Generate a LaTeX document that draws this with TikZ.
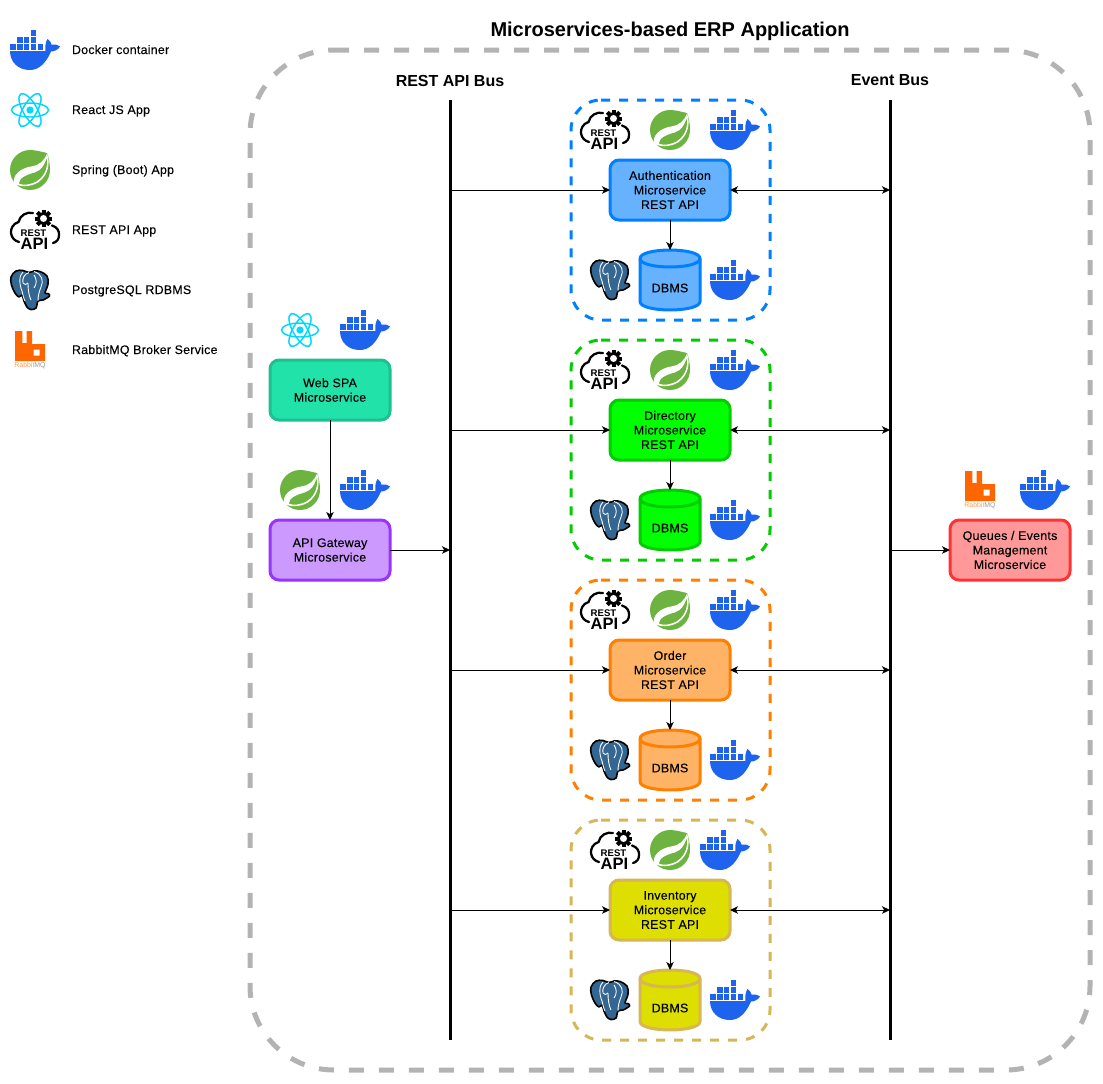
\documentclass[tikz,border=0pt]{standalone}
\usepackage{fontspec}
\setmainfont{Liberation Sans}
\newfontfamily\lblfont[LetterSpace=2.0,FakeBold=0.12]{Liberation Sans}
\usetikzlibrary{arrows.meta}
\definecolor{dockerblue}{HTML}{1D63ED}
\definecolor{reactcyan}{HTML}{00D8FF}
\definecolor{springgreen}{HTML}{6DB33F}
\definecolor{pgblue}{HTML}{336791}
\definecolor{rabbitorange}{HTML}{FF6600}
\definecolor{framegray}{HTML}{B3B3B3}
\definecolor{blueF}{HTML}{66B2FF}\definecolor{blueS}{HTML}{007FFF}
\definecolor{greenF}{HTML}{00FF00}\definecolor{greenS}{HTML}{00CC00}
\definecolor{orangeF}{HTML}{FFB366}\definecolor{orangeS}{HTML}{FF8000}
\definecolor{yellowF}{HTML}{DEDE00}\definecolor{yellowS}{HTML}{D6B656}
\definecolor{tealF}{HTML}{21E3A9}\definecolor{tealS}{HTML}{1EBF90}
\definecolor{purpleF}{HTML}{CC99FF}\definecolor{purpleS}{HTML}{9933FF}
\definecolor{redF}{HTML}{FF9999}\definecolor{redS}{HTML}{FF3333}
\tikzset{
  svcbox/.style={draw,line width=2.25pt,rounded corners=6.75pt,minimum width=90pt,minimum height=45pt,
    inner sep=0pt,outer sep=0pt,align=center,text=black,font=\lblfont\fontsize{9.3}{10.9}\selectfont},
  lbl/.style={inner sep=0pt,outer sep=0pt,font=\lblfont\fontsize{9.3}{10.9}\selectfont,text=black},
  legendlbl/.style={lbl,anchor=base west},
  dbshell/.style={inner sep=0pt,outer sep=0pt,minimum width=45pt,minimum height=45pt},
  busline/.style={line width=2.25pt,black},
  conn/.style={line width=0.75pt,black,-{Stealth[length=6pt,width=5.6pt,inset=1.6pt]}},
  conn2/.style={line width=0.75pt,black,{Stealth[length=6pt,width=5.6pt,inset=1.6pt]}-{Stealth[length=6pt,width=5.6pt,inset=1.6pt]}},
  outerframe/.style={draw=framegray,line width=3.75pt,dash pattern=on 11.25pt off 11.25pt,rounded corners=63pt},
  groupframe/.style={line width=2.25pt,dash pattern=on 6.75pt off 6.75pt,rounded corners=22.5pt},
  buslabel/.style={inner sep=0pt,font=\fontsize{12}{14}\selectfont\bfseries},
  dockericon/.pic={
    \fill[dockerblue] (0,21) -- (35.5,21) .. controls (35,16) and (35.5,12) .. (37.5,9)
      .. controls (40,10.5) and (41,12.5) .. (41.5,14.5) .. controls (44,14) and (47,14.5) .. (50,16.5)
      .. controls (48,20) and (44,21.5) .. (41,21.5) .. controls (36,33) and (29,40) .. (20,40)
      .. controls (8,40) and (0,32) .. (0,21) -- cycle;
    \foreach \xx in {0,6.9,13.8,20.7,27.6}{\fill[dockerblue] (\xx,14) rectangle ++(5.6,5.6);}
    \foreach \xx in {6.9,13.8,20.7}{\fill[dockerblue] (\xx,7) rectangle ++(5.6,5.6);}
    \fill[dockerblue] (20.7,0) rectangle ++(5.6,5.6);
  },
  reacticon/.pic={
    \foreach \aa in {0,60,120}{\draw[reactcyan,line width=1.1pt,rotate=\aa] (0,0) ellipse (18.5 and 7);}
    \fill[reactcyan] (0,0) circle (3.6);
  },
  springicon/.pic={
    \fill[springgreen] (20,0) .. controls (26,0) and (32,2) .. (37,3) .. controls (39,8) and (40,14) .. (40,20)
      .. controls (40,31) and (31,40) .. (20,40) .. controls (9,40) and (0,31) .. (0,20)
      .. controls (0,9) and (9,0) .. (20,0) -- cycle;
    \fill[white] (4,33.5) .. controls (2,25) and (11,18) .. (21,16.5) .. controls (30,15) and (34,11) .. (37,3.5)
      .. controls (40.5,13) and (38.5,25) .. (28,32.5) .. controls (19,37.5) and (10,37) .. (4,33.5) -- cycle;
    \fill[springgreen] (9,33.5) .. controls (9,28) and (17,24.5) .. (25,22.5) .. controls (31,20.5) and (35,15) .. (36.5,8.5)
      .. controls (38,15) and (36,25) .. (27,31) .. controls (20,35) and (13,35.5) .. (9,33.5) -- cycle;
  },
  resticon/.pic={
    \draw[black,line width=1.7pt,line cap=round] (23,3) .. controls (17,1.5) and (10,5) .. (8.5,12)
      .. controls (3,13.5) and (0.5,19) .. (1,23) .. controls (1.5,28) and (5,31) .. (9,32);
    \draw[black,line width=1.7pt,line cap=round] (42,15.5) .. controls (47,17) and (49.5,21) .. (49,25)
      .. controls (49,29) and (47,32) .. (43,33);
    \fill[black] (33.5,8.5) circle (6.3);
    \foreach \aa in {0,45,...,315}{\fill[black,rotate around={\aa:(33.5,8.5)}] (31.5,-0.3) rectangle (35.5,4);}
    \fill[white] (33.5,8.5) circle (3.5);
    \node[inner sep=0pt,text height=5.2pt,text depth=0pt,font=\fontsize{7.2}{8}\selectfont\bfseries] (resttxt) at (23.5,23.3) {REST};
    \node[inner sep=0pt,text height=8.9pt,text depth=0pt,font=\fontsize{12.4}{13}\selectfont\bfseries] (apitxt) at (24.5,34) {API};
  },
  pgicon/.pic={
    \filldraw[fill=pgblue,draw=black,line width=1.2pt,line join=round] plot[smooth cycle,tension=0.6] coordinates {
      (6,1) (1,7) (1.5,15) (5,23) (9,27) (12,25) (14,31) (17,37) (21,39.5) (26,38) (28,31) (33,30) (39.5,26) (38,23.5) (35,23) (38,14) (37,6) (30,1.5) (24,1) (19,2.5) (13,0.5)};
    \draw[white,line width=0.65pt] (13,2) .. controls (9,5) and (9,14) .. (12,21) .. controls (13,24) and (13,27) .. (15,31) ;
    \draw[white,line width=0.65pt] (19,2.5) .. controls (14,4) and (12,9) .. (13,13) .. controls (14,15) and (17,15) .. (18,13);
    \draw[white,line width=0.65pt] (24,1.5) .. controls (32,4) and (34,11) .. (31,17) .. controls (29,22) and (28,26) .. (28,31);
    \draw[white,line width=0.65pt] (18,13) .. controls (18,20) and (19,26) .. (21,30) ;
    \draw[white,line width=0.65pt] (24,5) .. controls (27,9) and (27,14) .. (24,18) ;
  },
  rabbiticon/.pic={
    \fill[rabbitorange,even odd rule] (0,1) -- (7.3,1) -- (7.3,13) -- (11.7,13) -- (11.7,1) -- (17,1) -- (17,14)
      -- (30,14) -- (30,31) -- (0,31) -- cycle (18.5,19.5) rectangle (24.5,25.5);
    \node[inner sep=0pt,font=\fontsize{5.2}{6}\selectfont,text=rabbitorange!65] (rabbittxt) at (15,35.5) {Rabbit\textcolor{black!40}{MQ}};
  },
}
% name prefix, y offset, fill, stroke, label, rest x, top docker x
\newcommand{\svcgroup}[7]{%
  \begin{scope}[shift={(0,#2)}]
    \draw[groupframe,draw=#4] (601,100) -- (770,100) -- (770,320) -- (571,320) -- (571,100) -- (601,100);
    \pic (#1rest) at (#6,110) {resticon};
    \pic (#1spring) at (650,110) {springicon};
    \pic (#1dock) at (#7,110) {dockericon};
    \pic (#1pg) at (590,260) {pgicon};
    \pic (#1dbdock) at (710,260) {dockericon};
    \node[svcbox,fill=#3,draw=#4] (#1box) at (670,190) {#5};
    \filldraw[fill=#3,draw=#4,line width=2.25pt,line join=round] (640,258.5) .. controls (640,247.2) and (700,247.2) .. (700,258.5)
      -- (700,301.5) .. controls (700,312.8) and (640,312.8) .. (640,301.5) -- cycle;
    \draw[#4,line width=2.25pt] (640,258.5) .. controls (640,269.8) and (700,269.8) .. (700,258.5);
    \node[dbshell] (#1db) at (670,280) {};
    \node[lbl] (#1dbtxt) at (670,288) {DBMS};
  \end{scope}
  \draw[conn] (restTop |- #1box.west) -- (#1box.west);
  \draw[conn2] (#1box.east) -- (eventTop |- #1box.east);
  \draw[conn] (#1box.south) -- (#1db.north);
}
\begin{document}
\begin{tikzpicture}[x=0.75pt,y=-0.75pt]
\useasboundingbox (0,0) rectangle (1103,1083);
\fill[white] (0,0) rectangle (1103,1083);
\draw[outerframe] (334,50) -- (1090,50) -- (1090,1070) -- (250,1070) -- (250,50) -- (334,50);
\node[inner sep=0pt,font=\fontsize{15}{18}\selectfont\bfseries] (title) at (670,31) {Microservices-based ERP Application};
\node[buslabel] (restlabel) at (450,80.5) {REST API Bus};
\node[buslabel] (eventlabel) at (890,80.5) {Event Bus};
\coordinate (restTop) at (450,100);
\coordinate (restBot) at (450,1040);
\coordinate (eventTop) at (890,100);
\coordinate (eventBot) at (890,1040);
\draw[busline] (restTop) -- (restBot);
\draw[busline] (eventTop) -- (eventBot);
% legend
\pic (l1) at (10,30) {dockericon};
\pic (l2) at (30,110) {reacticon};
\pic (l3) at (10,150) {springicon};
\pic (l4) at (10,210) {resticon};
\pic (l5) at (10,270) {pgicon};
\pic (l6) at (15,330) {rabbiticon};
\node[legendlbl] (t1) at (72,54) {Docker container};
\node[legendlbl] (t2) at (72,114) {React JS App};
\node[legendlbl] (t3) at (72,174) {Spring (Boot) App};
\node[legendlbl] (t4) at (72,234) {REST API App};
\node[legendlbl] (t5) at (72,294) {PostgreSQL RDBMS};
\node[legendlbl] (t6) at (72,354) {RabbitMQ Broker Service};
% service groups
\svcgroup{auth}{0}{blueF}{blueS}{Authentication\\Microservice\\REST API}{580}{710}
\svcgroup{dir}{240}{greenF}{greenS}{Directory\\Microservice\\REST API}{580}{710}
\svcgroup{ord}{480}{orangeF}{orangeS}{Order\\Microservice\\REST API}{580}{710}
\svcgroup{inv}{720}{yellowF}{yellowS}{Inventory\\Microservice\\REST API}{590}{700}
% left column
\pic (w1) at (300,330) {reacticon};
\pic (w2) at (340,310) {dockericon};
\pic (g1) at (280,470) {springicon};
\pic (g2) at (340,470) {dockericon};
\node[svcbox,fill=tealF,draw=tealS] (web) at (330,390) {Web SPA\\Microservice};
\node[svcbox,fill=purpleF,draw=purpleS] (gateway) at (330,550) {API Gateway\\Microservice};
\draw[conn] (web.south) -- (gateway.north);
\draw[conn] (gateway.east) -- (restTop |- gateway.east);
% right column
\pic (q1) at (965,470) {rabbiticon};
\pic (q2) at (1020,470) {dockericon};
\node[svcbox,fill=redF,draw=redS] (queue) at (1010,550) {Queues / Events\\Management\\Microservice};
\draw[conn] (eventTop |- queue.west) -- (queue.west);
\end{tikzpicture}
\end{document}
